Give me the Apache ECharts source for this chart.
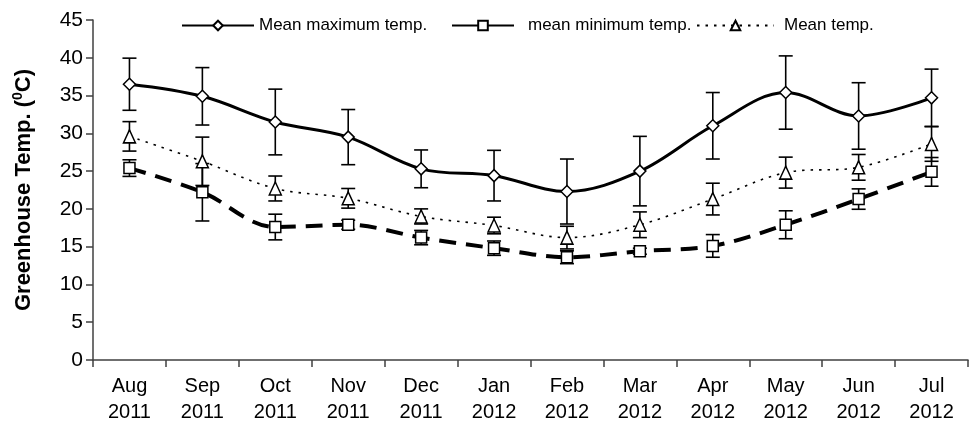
<!DOCTYPE html>
<html>
<head>
<meta charset="utf-8">
<script src="https://cdn.jsdelivr.net/npm/echarts@6/dist/echarts.min.js"></script>
<style>html,body{margin:0;padding:0;background:#fff;}#c{width:972px;height:425px;}</style>
</head>
<body>
<div id="c"></div>
<script>
const categories = ['Aug\n2011','Sep\n2011','Oct\n2011','Nov\n2011','Dec\n2011','Jan\n2012','Feb\n2012','Mar\n2012','Apr\n2012','May\n2012','Jun\n2012','Jul\n2012'];
const yTicks = [0,5,10,15,20,25,30,35,40,45];

const maxTemp = [36.5, 34.9, 31.5, 29.5, 25.3, 24.4, 22.3, 25.0, 31.0, 35.4, 32.3, 34.7];
const maxErr  = [3.45, 3.8, 4.35, 3.65, 2.5, 3.35, 4.3, 4.6, 4.4, 4.85, 4.4, 3.8];

const minTemp = [25.4, 22.2, 17.6, 17.9, 16.2, 14.8, 13.6, 14.4, 15.1, 17.9, 21.3, 24.9];
const minErr  = [1.1, 3.8, 1.7, 0.6, 0.95, 0.95, 0.85, 0.4, 1.5, 1.85, 1.35, 1.9];

const meanTemp = [29.6, 26.3, 22.7, 21.4, 19.0, 17.8, 16.2, 17.9, 21.3, 24.8, 25.5, 28.6];
const meanErr  = [1.95, 3.2, 1.65, 1.3, 1.0, 1.1, 1.5, 1.7, 2.1, 2.05, 1.7, 2.3];

const names = ['Mean maximum temp.', 'mean minimum temp.', 'Mean temp.'];
const FONT = 'Liberation Sans, Arial, sans-serif';

function errData(vals, errs) {
  return vals.map((v, i) => [i, v - errs[i], v + errs[i]]);
}
function errSeries(vals, errs) {
  return {
    type: 'custom',
    z: 1,
    silent: true,
    data: errData(vals, errs),
    renderItem: function (params, api) {
      const lo = api.coord([api.value(0), api.value(1)]);
      const hi = api.coord([api.value(0), api.value(2)]);
      const hw = 7;
      const st = { stroke: '#000', lineWidth: 1.6, fill: null };
      return {
        type: 'group',
        children: [
          { type: 'line', shape: { x1: lo[0], y1: lo[1], x2: hi[0], y2: hi[1] }, style: st },
          { type: 'line', shape: { x1: lo[0]-hw, y1: lo[1], x2: lo[0]+hw, y2: lo[1] }, style: st },
          { type: 'line', shape: { x1: hi[0]-hw, y1: hi[1], x2: hi[0]+hw, y2: hi[1] }, style: st }
        ]
      };
    }
  };
}

const chart = echarts.init(document.getElementById('c'), null, { renderer: 'canvas' });
const legendBase = {
  top: 17, itemHeight: 12, orient: 'horizontal', selectedMode: false, padding: 0,
  textStyle: { fontFamily: FONT, fontSize: 17, color: '#000' }
};
chart.setOption({
  animation: false,
  backgroundColor: '#fff',
  grid: { left: 93, right: 4, top: 20, bottom: 61, containLabel: false },
  legend: [
    Object.assign({}, legendBase, { left: 181, itemWidth: 72, data: [names[0]] }),
    Object.assign({}, legendBase, { left: 451, itemWidth: 62, data: [names[1]], lineStyle: { type: 'solid' },
      textStyle: { fontFamily: FONT, fontSize: 17, color: '#000', padding: [0, 0, 0, 9] } }),
    Object.assign({}, legendBase, { left: 696, itemWidth: 77, data: [names[2]],
      textStyle: { fontFamily: FONT, fontSize: 17, color: '#000', padding: [0, 0, 0, 5] } })
  ],
  xAxis: {
    type: 'category',
    data: categories,
    boundaryGap: true,
    axisLine: { lineStyle: { color: '#404040', width: 1.5 } },
    axisTick: { show: true, alignWithLabel: false, length: 7, lineStyle: { color: '#404040', width: 1.5 } },
    axisLabel: { color: '#000', fontFamily: FONT, fontSize: 20, lineHeight: 26, margin: 13, interval: 0 },
    splitLine: { show: false }
  },
  yAxis: {
    type: 'value',
    min: yTicks[0], max: yTicks[yTicks.length - 1], interval: 5,
    name: '{b|Greenhouse Temp. (}{s|0}{b|C)}',
    nameLocation: 'middle',
    nameGap: 56,
    nameRotate: 90,
    nameTextStyle: {
      rich: {
        b: { fontFamily: FONT, fontSize: 22, fontWeight: 'bold', color: '#000', lineHeight: 26 },
        s: { fontFamily: FONT, fontSize: 14, fontWeight: 'bold', color: '#000', verticalAlign: 'top', lineHeight: 26 }
      }
    },
    axisLine: { show: true, lineStyle: { color: '#404040', width: 1.5 } },
    axisTick: { show: true, length: 7, lineStyle: { color: '#404040', width: 1.5 } },
    axisLabel: { color: '#000', fontFamily: FONT, fontSize: 21, margin: 10 },
    splitLine: { show: false }
  },
  series: [
    errSeries(maxTemp, maxErr),
    errSeries(minTemp, minErr),
    errSeries(meanTemp, meanErr),
    {
      name: names[0], type: 'line', data: maxTemp, z: 3, smooth: 0.35,
      symbol: 'diamond', symbolSize: 12,
      lineStyle: { color: '#000', width: 3, type: 'solid' },
      itemStyle: { color: '#fff', borderColor: '#000', borderWidth: 1.5 }
    },
    {
      name: names[1], type: 'line', data: minTemp, z: 3, smooth: 0.35,
      symbol: 'rect', symbolSize: 11,
      lineStyle: { color: '#000', width: 4, type: [17, 10] },
      itemStyle: { color: '#fff', borderColor: '#000', borderWidth: 1.5 }
    },
    {
      name: names[2], type: 'line', data: meanTemp, z: 3, smooth: 0.35,
      symbol: 'triangle', symbolSize: [12, 13],
      lineStyle: { color: '#000', width: 1.6, type: [2.5, 6] },
      itemStyle: { color: '#fff', borderColor: '#000', borderWidth: 1.5 }
    }
  ]
});
</script>
</body>
</html>
